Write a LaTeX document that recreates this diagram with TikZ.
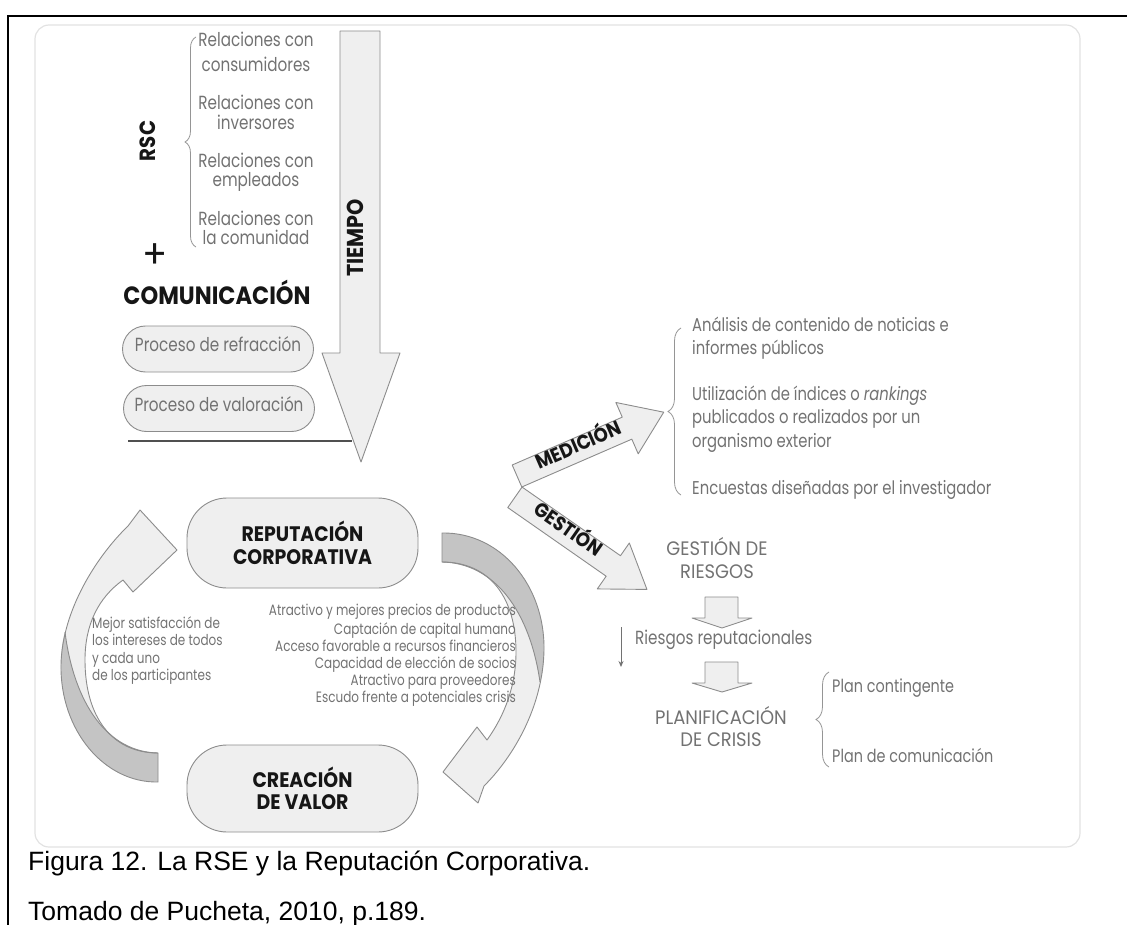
\documentclass[tikz,border=0pt]{standalone}
\usepackage{fontspec}
\usetikzlibrary{decorations.pathreplacing,arrows.meta}
\newfontfamily\dgl[FakeStretch=0.8]{Poppins}
\newfontfamily\dgc[FakeStretch=0.92]{Poppins}
\newfontfamily\dgb[FakeStretch=0.9]{Poppins}
\newfontfamily\capf{Liberation Sans}
\definecolor{txg}{HTML}{727272}
\definecolor{txk}{HTML}{161616}
\definecolor{shf}{HTML}{EFEFEF}
\definecolor{shd}{HTML}{8C8C8C}
\definecolor{dkr}{HTML}{C4C4C4}
\definecolor{frm}{HTML}{E2E2E2}
\begin{document}
\begin{tikzpicture}[x=1pt,y=-1pt,
  lt/.style={font={\dgl\fontsize{#1}{#1}\selectfont}, text=txg, inner sep=0pt, text height=0.72em, text depth=0.2em},
  ct/.style={font={\dgc\fontsize{#1}{#1}\selectfont}, text=txg, inner sep=0pt, text height=0.72em, text depth=0.2em},
  bt/.style={font={\dgb\bfseries\fontsize{#1}{#1}\selectfont}, text=txk, inner sep=0pt, text height=0.72em, text depth=0.2em},
  blk/.style={fill=shf, draw=shd, line width=0.9pt, line join=round},
  pill/.style={blk, rounded corners=23pt, minimum width=191pt, minimum height=46pt, inner sep=0pt},
  rbox/.style={blk, rounded corners=40pt, minimum width=231pt, inner sep=0pt, align=center, text=txk},
  brc/.style={draw=txg!75, line width=0.8pt, decorate, decoration={brace, amplitude=#1, aspect=0.5}},
  capt/.style={font={\capf\fontsize{26.5}{26.5}\selectfont}, text=black, inner sep=0pt, anchor=base west}
]
\useasboundingbox (0,0) rectangle (1127,925);
% outer frame lines
\draw[line width=2.5pt] (8,925) -- (8,16) -- (1130,16);
% faint rounded frame
\draw[frm, line width=1.2pt, rounded corners=14pt] (35,25) rectangle (1080,847);

% TIEMPO arrow
\draw[blk] (340,31) -- (380,31) -- (380,353) -- (400,353) -- (361,462) -- (322,353) -- (340,353) -- cycle;
\node[bt=23, rotate=90] (tiempo) at (361,238) {TIEMPO};

% RSC block
\node[bt=22, rotate=90] (rsc) at (153,141) {RSC};
\draw[brc=11pt] (196,247) -- (196,37);
\foreach \nm/\yy/\tx in {r1/44/Relaciones con, r2/69/consumidores, r3/107/Relaciones con, r4/127/inversores,
                         r5/165/Relaciones con, r6/184/empleados, r7/223/Relaciones con, r8/242/la comunidad}
  \node[lt=19] (\nm) at (256,\yy) {\tx};
\node[font={\dgc\fontsize{40}{40}\selectfont}, text=txk, inner sep=0pt, text height=0.72em, text depth=0.2em] (plus) at (155,266) {+};
\node[bt=25] (comu) at (217,302) {COMUNICACIÓN};
\node[pill, lt=19] (p1) at (218,349) {Proceso de refracción};
\node[pill, lt=19] (p2) at (219,408.5) {Proceso de valoración};
\coordinate (ls) at (128,441);
\coordinate (le) at (352,441);
\draw[txk!75, line width=1.1pt] (ls) -- (le);

% cycle boxes
\node[rbox, minimum height=90pt, font={\dgb\bfseries\fontsize{21}{23}\selectfont}] (rep) at (302.5,543) {REPUTACIÓN\\CORPORATIVA};
\node[rbox, minimum height=87pt, font={\dgb\bfseries\fontsize{21}{22}\selectfont}] (cre) at (302.5,788.5) {CREACIÓN\\DE VALOR};

% right curved arrow (reputacion -> creacion)
\fill[shf] (442,533) .. controls (500,532) and (545,585) .. (544,650) .. controls (543,705) and (515,755) .. (484,786)
  -- (478,803) -- (443,772) -- (477,727) -- (487,740) .. controls (505,715) and (516,685) .. (516,652)
  .. controls (516,598) and (490,562) .. (442,562) -- cycle;
\fill[dkr] (442,533) .. controls (500,532) and (545,585) .. (544,650) .. controls (544,665) and (542,676) .. (540,682)
  .. controls (530,612) and (495,563) .. (442,562) -- cycle;
\draw[shd, line width=0.9pt, line join=round] (442,533) .. controls (500,532) and (545,585) .. (544,650) .. controls (543,705) and (515,755) .. (484,786)
  -- (478,803) -- (443,772) -- (477,727) -- (487,740) .. controls (505,715) and (516,685) .. (516,652)
  .. controls (516,598) and (490,562) .. (442,562) -- cycle;
\draw[shd, line width=0.9pt] (540,682) .. controls (530,612) and (495,563) .. (442,562);

% left curved arrow (creacion -> reputacion)
\fill[shf] (158,782) .. controls (104,783) and (60,730) .. (61,665) .. controls (62,610) and (97,556) .. (128,526)
  -- (140,510) -- (177,550) -- (133,592) -- (123,580) .. controls (98,598) and (85,625) .. (85,660)
  .. controls (85,717) and (112,753) .. (158,753) -- cycle;
\fill[dkr] (158,782) .. controls (104,783) and (60,730) .. (61,665) .. controls (61,650) and (63,638) .. (65,632)
  .. controls (74,703) and (107,752) .. (158,753) -- cycle;
\draw[shd, line width=0.9pt, line join=round] (158,782) .. controls (104,783) and (60,730) .. (61,665) .. controls (62,610) and (97,556) .. (128,526)
  -- (140,510) -- (177,550) -- (133,592) -- (123,580) .. controls (98,598) and (85,625) .. (85,660)
  .. controls (85,717) and (112,753) .. (158,753) -- cycle;
\draw[shd, line width=0.9pt] (65,632) .. controls (74,703) and (107,752) .. (158,753);

% left text
\foreach \nm/\yy/\tx in {m1/626/Mejor satisfacción de, m2/643/los intereses de todos, m3/661/y cada uno, m4/678/de los participantes}
  \node[lt=15, anchor=west] (\nm) at (92,\yy) {\tx};
% benefits
\foreach \nm/\yy/\tx in {b1/613/Atractivo y mejores precios de productos, b2/632/Captación de capital humano,
                         b3/649/Acceso favorable a recursos financieros, b4/666/Capacidad de elección de socios,
                         b5/683/Atractivo para proveedores, b6/700/Escudo frente a potenciales crisis}
  \node[lt=15, anchor=east] (\nm) at (516,\yy) {\tx};

% GESTION and MEDICION arrows
\begin{scope}[shift={(514.9,497.3)}, rotate=-34.9]
  \draw[blk] (0,-12.5) -- (120,-12.5) -- (120,-28) -- (161,0) -- (120,28) -- (120,12.5) -- (0,12.5) -- cycle;
\end{scope}
\begin{scope}[shift={(517,476)}, rotate=23.5]
  \draw[blk] (0,-12) -- (120,-12) -- (120,-28) -- (160,0) -- (120,28) -- (120,12) -- (0,12) -- cycle;
\end{scope}
\node[bt=20, rotate=23.5] (med) at (580,449) {MEDICIÓN};
\node[bt=20, rotate=-34.9] (ges) at (566,533) {GESTIÓN};

% measurement list
\draw[brc=13pt] (681,495) -- (681,328);
\foreach \nm/\yy/\tx in {a1/329/Análisis de contenido de noticias e, a2/352/informes públicos,
                         a3/398/{Utilización de índices o \textit{rankings}}, a4/421/publicados o realizados por un,
                         a5/445/organismo exterior, a6/492/Encuestas diseñadas por el investigador}
  \node[lt=18.5, anchor=west] (\nm) at (692,\yy) {\tx};

% risk management
\node[ct=19.5] (g1) at (717,553) {GESTIÓN DE};
\node[ct=19.5] (g2) at (717,576) {RIESGOS};
\draw[blk] (705,597) -- (738,597) -- (738,618) -- (752,618) -- (722,628) -- (692,618) -- (705,618) -- cycle;
\coordinate (ta) at (621,627);
\coordinate (tb) at (621,667);
\draw[txg, line width=0.9pt, -{Stealth[length=6pt,width=5pt]}] (ta) -- (tb);
\node[lt=19, anchor=west] (rr) at (635,642) {Riesgos reputacionales};
\draw[blk] (705,662) -- (738,662) -- (738,683) -- (752,683) -- (722,692) -- (692,683) -- (705,683) -- cycle;
\node[ct=19.5] (pl1) at (721,722) {PLANIFICACIÓN};
\node[ct=19.5] (pl2) at (721,744) {DE CRISIS};
\draw[brc=13pt] (829,767) -- (829,672);
\node[lt=18, anchor=west] (c1) at (832,690) {Plan contingente};
\node[lt=18, anchor=west] (c2) at (832,760) {Plan de comunicación};

% caption
\node[capt] (cap1) at (28,870) {Figura 12. La RSE y la Reputación Corporativa.};
\node[capt] (cap2) at (28,920) {Tomado de Pucheta, 2010, p.189.};
\end{tikzpicture}
\end{document}
